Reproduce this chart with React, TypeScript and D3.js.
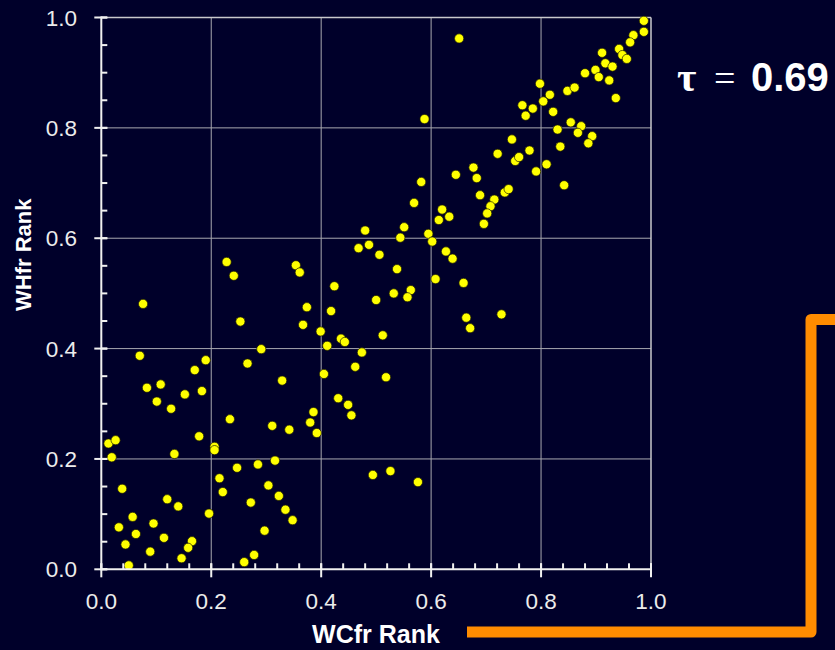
import React from "react";
import * as d3 from "d3";

const wcfrRank: number[] = [
  0.987, 0.987, 0.651, 0.968, 0.962, 0.942, 0.948, 0.956, 0.911, 0.917,
  0.930, 0.899, 0.880, 0.905, 0.924, 0.936, 0.848, 0.861, 0.798, 0.816,
  0.804, 0.766, 0.785, 0.772, 0.822, 0.588, 0.854, 0.873, 0.830, 0.867,
  0.893, 0.886, 0.747, 0.835, 0.721, 0.779, 0.753, 0.760, 0.810, 0.791,
  0.842, 0.677, 0.683, 0.645, 0.582, 0.569, 0.620, 0.689, 0.715, 0.708,
  0.734, 0.741, 0.702, 0.696, 0.633, 0.614, 0.551, 0.544, 0.595, 0.602,
  0.506, 0.627, 0.639, 0.538, 0.608, 0.659, 0.563, 0.557, 0.532, 0.500,
  0.664, 0.671, 0.728, 0.512, 0.518, 0.480, 0.487, 0.468, 0.228, 0.241,
  0.354, 0.361, 0.424, 0.076, 0.374, 0.418, 0.253, 0.367, 0.399, 0.436,
  0.443, 0.411, 0.291, 0.474, 0.070, 0.190, 0.266, 0.462, 0.170, 0.405,
  0.329, 0.083, 0.108, 0.152, 0.183, 0.431, 0.101, 0.127, 0.449, 0.455,
  0.386, 0.380, 0.392, 0.234, 0.311, 0.342, 0.013, 0.026, 0.019, 0.178,
  0.206, 0.206, 0.133, 0.247, 0.285, 0.316, 0.215, 0.221, 0.304, 0.323,
  0.335, 0.348, 0.272, 0.297, 0.038, 0.120, 0.140, 0.196, 0.057, 0.032,
  0.095, 0.063, 0.114, 0.044, 0.165, 0.158, 0.089, 0.146, 0.050, 0.278,
  0.260, 0.494, 0.526, 0.576,
];

const whfrRank: number[] = [
  0.994, 0.974, 0.962, 0.968, 0.955, 0.943, 0.932, 0.925, 0.936, 0.917,
  0.911, 0.905, 0.899, 0.892, 0.886, 0.854, 0.867, 0.873, 0.880, 0.860,
  0.848, 0.841, 0.835, 0.822, 0.829, 0.816, 0.810, 0.803, 0.797, 0.791,
  0.785, 0.772, 0.779, 0.766, 0.753, 0.759, 0.740, 0.747, 0.734, 0.721,
  0.696, 0.728, 0.709, 0.715, 0.702, 0.664, 0.652, 0.678, 0.670, 0.658,
  0.683, 0.689, 0.645, 0.626, 0.639, 0.633, 0.620, 0.601, 0.608, 0.594,
  0.570, 0.576, 0.563, 0.544, 0.526, 0.519, 0.506, 0.493, 0.500, 0.488,
  0.456, 0.437, 0.462, 0.424, 0.348, 0.614, 0.588, 0.582, 0.557, 0.532,
  0.551, 0.538, 0.513, 0.481, 0.475, 0.468, 0.449, 0.443, 0.431, 0.418,
  0.412, 0.405, 0.399, 0.393, 0.387, 0.379, 0.373, 0.367, 0.361, 0.354,
  0.342, 0.329, 0.335, 0.317, 0.323, 0.310, 0.304, 0.291, 0.298, 0.279,
  0.285, 0.266, 0.247, 0.272, 0.260, 0.253, 0.228, 0.234, 0.203, 0.241,
  0.222, 0.216, 0.209, 0.184, 0.190, 0.197, 0.165, 0.140, 0.152, 0.133,
  0.108, 0.089, 0.121, 0.070, 0.146, 0.127, 0.114, 0.101, 0.095, 0.076,
  0.083, 0.064, 0.057, 0.045, 0.051, 0.039, 0.032, 0.020, 0.007, 0.026,
  0.013, 0.171, 0.178, 0.158,
];

const majorTicks: number[] = [0, 0.2, 0.4, 0.6, 0.8, 1.0];
const tickLabels: string[] = ["0.0", "0.2", "0.4", "0.6", "0.8", "1.0"];
const xTitle = "WCfr Rank";
const yTitle = "WHfr Rank";
const tauLabel = "τ";
const tauValue = "0.69";

const W = 835;
const H = 650;
const BG = "#00002a";
const FONT = "'Liberation Sans', Arial, Helvetica, sans-serif";
const SERIF = "'Liberation Serif', 'DejaVu Serif', serif";

export default function App() {
  const x = d3.scaleLinear().domain([0, 1]).range([101.3, 651]);
  const y = d3.scaleLinear().domain([0, 1]).range([569.3, 17.5]);
  const minorX = d3.range(0, 1.0001, 0.04);
  const minorY = d3.range(0, 1.0001, 0.05);
  const gridVals = majorTicks.filter((t) => t > 0 && t < 1);
  const points = wcfrRank.map((v, i) => [v, whfrRank[i]] as [number, number]);

  return (
    <svg
      width={W}
      height={H}
      style={{ position: "absolute", left: 0, top: 0, display: "block" }}
      fontFamily={FONT}
    >
      <rect x={0} y={0} width={W} height={H} fill={BG} />

      {/* grid */}
      {gridVals.map((t) => (
        <line key={"gx" + t} x1={x(t)} x2={x(t)} y1={y(1)} y2={y(0)} stroke="#a8a8b0" strokeWidth={1} />
      ))}
      {gridVals.map((t) => (
        <line key={"gy" + t} x1={x(0)} x2={x(1)} y1={y(t)} y2={y(t)} stroke="#a8a8b0" strokeWidth={1} />
      ))}
      {/* top & right frame */}
      <line x1={x(0)} x2={x(1)} y1={y(1)} y2={y(1)} stroke="#c8c8cc" strokeWidth={1.5} />
      <line x1={x(1)} x2={x(1)} y1={y(1)} y2={y(0)} stroke="#c8c8cc" strokeWidth={1.5} />

      {/* points */}
      {points.map(([a, b], i) => (
        <circle key={i} cx={x(a)} cy={y(b)} r={4.6} fill="#ffff00" stroke="#1a1a00" strokeWidth={0.7} />
      ))}

      {/* y axis */}
      <line x1={x(0)} x2={x(0)} y1={y(0) + 1} y2={y(1) - 1} stroke="#f0f0f0" strokeWidth={2} />
      {minorY.map((t) => (
        <line key={"my" + t} x1={x(0)} x2={x(0) + 6} y1={y(t)} y2={y(t)} stroke="#f0f0f0" strokeWidth={2} />
      ))}
      {majorTicks.map((t) => (
        <line key={"My" + t} x1={x(0) - 7} x2={x(0) + 6} y1={y(t)} y2={y(t)} stroke="#f0f0f0" strokeWidth={2} />
      ))}
      {majorTicks.map((t, i) => (
        <text key={"ly" + t} x={77} y={y(t)} dy="0.36em" textAnchor="end" fill="#ececec" fontSize={22.5}>
          {tickLabels[i]}
        </text>
      ))}

      {/* x axis */}
      <line x1={x(0) - 1} x2={x(1) + 1} y1={y(0)} y2={y(0)} stroke="#f0f0f0" strokeWidth={2} />
      {minorX.map((t) => (
        <line key={"mx" + t} x1={x(t)} x2={x(t)} y1={y(0)} y2={y(0) - 6} stroke="#f0f0f0" strokeWidth={2} />
      ))}
      {majorTicks.map((t) => (
        <line key={"Mx" + t} x1={x(t)} x2={x(t)} y1={y(0) + 8} y2={y(0) - 6} stroke="#f0f0f0" strokeWidth={2} />
      ))}
      {majorTicks.map((t, i) => (
        <text key={"lx" + t} x={x(t)} y={609} textAnchor="middle" fill="#ececec" fontSize={22.5}>
          {tickLabels[i]}
        </text>
      ))}

      {/* titles */}
      <text x={376} y={643} textAnchor="middle" fill="#ffffff" fontSize={25} fontWeight="bold">
        {xTitle}
      </text>
      <text
        transform={`translate(31, ${y(0.57)}) rotate(-90)`}
        textAnchor="middle"
        fill="#ffffff"
        fontSize={22}
        fontWeight="bold"
      >
        {yTitle}
      </text>

      {/* tau annotation */}
      <text x={677} y={91} fill="#ffffff" fontSize={42} fontWeight="bold" fontFamily={SERIF}>
        {tauLabel}
      </text>
      <text x={714} y={91} fill="#ffffff" fontSize={38} fontFamily={SERIF}>
        =
      </text>
      <text x={751} y={91} fill="#ffffff" fontSize={40} fontWeight="bold">
        {tauValue}
      </text>

      {/* orange bracket */}
      <path
        d="M 467 632 L 811 632 L 811 319.5 L 845 319.5"
        fill="none"
        stroke="#ff8c00"
        strokeWidth={11}
        strokeLinejoin="round"
      />
    </svg>
  );
}
